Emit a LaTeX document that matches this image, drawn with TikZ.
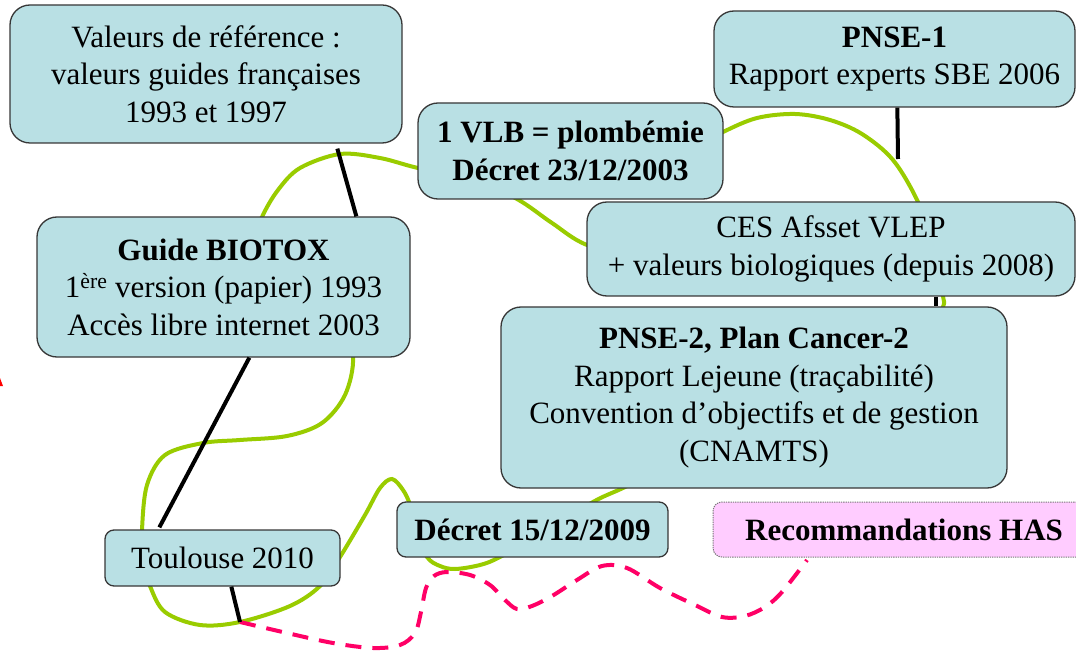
\documentclass[tikz,border=0pt]{standalone}
\usepackage{fontspec}
\setmainfont{Liberation Serif}
\definecolor{boxfill}{RGB}{185,224,228}
\definecolor{boxline}{RGB}{55,55,55}
\definecolor{limegreen}{RGB}{153,204,0}
\definecolor{hotpink}{RGB}{255,0,102}
\definecolor{hasfill}{RGB}{255,204,255}
\definecolor{hasline}{RGB}{120,120,120}
\newcommand\dfont{\fontsize{31}{37.5}\selectfont}
\begin{document}
\begin{tikzpicture}[x=1pt,y=-1pt,
  box/.style={draw=boxline, fill=boxfill, line width=1.3pt, rounded corners=20pt, align=center, inner sep=0pt, font=\dfont},
  smallbox/.style={box, rounded corners=9pt},
  hasbox/.style={smallbox, fill=hasfill, draw=hasline, densely dotted, line width=1pt},
  greenline/.style={draw=limegreen, line width=4pt, line cap=round},
  blackline/.style={draw=black, line width=4pt},
  pinkline/.style={draw=hotpink, line width=4pt, dash pattern=on 16pt off 11pt},
]
\useasboundingbox (0,0) rectangle (1076,652);

% green curves
\draw[greenline] plot[smooth, tension=0.55] coordinates {
 (650,262) (587,245) (552,223) (517,199) (470,178) (418,168) (380,158) (340,154)
 (300,168) (278,190) (262,217) (250,250) (340,320) (353,357) (345,395) (322,423)
 (287,436) (240,440) (203,443) (165,455) (147,485) (142,530) (143,560) (150,586)
 (165,612) (200,625) (240,622) (290,606) (320,586) (340,557) (365,515) (380,488)
 (392,479) (403,490) (410,505) (415,530) (427,557) (440,566) (455,569) (480,565)
 (500,557) (550,530) (593,502) (623,488) (660,470)};
\draw[greenline] plot[smooth, tension=0.55] coordinates {
 (930,340) (943,307) (943,296) (935,250) (918,202) (893,160) (862,134) (830,120)
 (795,114) (757,118) (723,132) (690,150)};

% pink dashed
\coordinate (p0) at (240,622);
\draw[pinkline] plot[smooth, tension=0.55] coordinates {
 (240,622) (287,633) (333,643) (373,648) (400,645) (415,633) (421,612) (426,588)
 (434,576) (447,572) (470,575) (490,585) (505,600) (517,609) (532,606) (552,596)
 (577,580) (602,566) (627,568) (660,588) (695,605) (722,617) (745,616) (765,607)
 (782,592) (807,560)};

% boxes
\node[box, minimum width=392pt, minimum height=138pt] (valeurs) at (206,74)
  {Valeurs de référence :\\valeurs guides françaises\\1993 et 1997};
\node[box, minimum width=361pt, minimum height=96pt] (pnse1) at (894.5,59)
  {\textbf{PNSE-1}\\Rapport experts SBE 2006};
\node[box, minimum width=305pt, minimum height=96pt] (vlb) at (570.5,151)
  {\textbf{1 VLB = plombémie}\\\textbf{Décret 23/12/2003}};
\node[box, minimum width=488pt, minimum height=94pt] (ces) at (831,249)
  {CES Afsset VLEP\\+ valeurs biologiques (depuis 2008)};
\node[box, minimum width=373pt, minimum height=140pt] (biotox) at (223.5,287)
  {\textbf{Guide BIOTOX}\\1\textsuperscript{ère} version (papier) 1993\\Accès libre internet 2003};
\node[box, minimum width=506pt, minimum height=181pt] (pnse2) at (754,397.5)
  {\textbf{PNSE-2, Plan Cancer-2}\\Rapport Lejeune (traçabilité)\\Convention d’objectifs et de gestion\\(CNAMTS)};
\node[smallbox, minimum width=235pt, minimum height=56pt] (toulouse) at (222.5,558)
  {Toulouse 2010};
\node[smallbox, minimum width=271pt, minimum height=55pt] (decret) at (532.5,529.5)
  {\textbf{Décret 15/12/2009}};
\node[hasbox, minimum width=382pt, minimum height=55pt] (has) at (904,529.5)
  {\textbf{Recommandations HAS}};

% black connectors
\coordinate (pend) at (898,159);
\draw[blackline] ([xshift=328pt,yshift=-5pt]valeurs.south west) -- ([xshift=320pt]biotox.north west);
\draw[blackline] ([xshift=213pt]biotox.south west) -- ([xshift=55pt,yshift=2pt]toulouse.north west);
\draw[blackline] ([xshift=127pt]toulouse.south west) -- (p0);
\draw[blackline] ([xshift=184pt]pnse1.south west) -- (pend);
\draw[blackline] ([xshift=350pt]ces.south west) -- ([xshift=436pt]pnse2.north west);

% red fragment at left edge
\fill[red] (0,378) -- (3,386) -- (0,386) -- cycle;
\end{tikzpicture}
\end{document}
